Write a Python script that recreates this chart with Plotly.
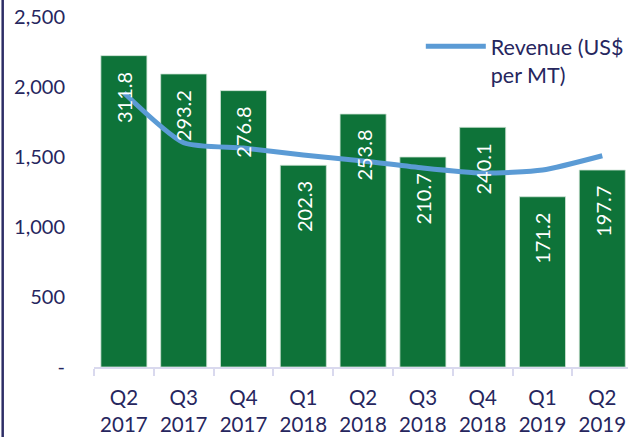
import plotly.graph_objects as go

categories = ["Q2<br>2017", "Q3<br>2017", "Q4<br>2017", "Q1<br>2018", "Q2<br>2018",
              "Q3<br>2018", "Q4<br>2018", "Q1<br>2019", "Q2<br>2019"]
volume = [2224, 2093, 1974, 1441, 1807, 1500, 1712, 1216, 1407]
bar_labels = ["311.8", "293.2", "276.8", "202.3", "253.8", "210.7", "240.1", "171.2", "197.7"]
revenue_per_mt = [1959, 1602, 1564, 1514, 1472, 1421, 1385, 1407, 1509]
ytick_vals = [0, 500, 1000, 1500, 2000, 2500]
ytick_text = ["-", "500", "1,000", "1,500", "2,000", "2,500"]

NAVY = "#26265E"
FONT = "Lato"

fig = go.Figure()
fig.add_trace(go.Bar(
    x=categories, y=volume, marker=dict(color="#0E7339", line=dict(color="#CFE3D6", width=0.8)),
    showlegend=False, hoverinfo="skip",
))
fig.add_trace(go.Scatter(
    x=categories, y=revenue_per_mt, mode="lines", name="Revenue (US$<br>per MT)",
    line=dict(color="#5B9BD5", width=5, shape="spline", smoothing=0.6),
))
for c, v, t in zip(categories, volume, bar_labels):
    fig.add_annotation(x=c, y=v, text=t, textangle=-90, showarrow=False,
                       yanchor="top", yshift=-14,
                       font=dict(family=FONT, size=20, color="white"))

fig.add_shape(type="line", xref="paper", yref="paper", x0=-0.171, x1=-0.171, y0=-0.2, y1=1.1,
              line=dict(color="#2E2E66", width=2.5))

fig.update_layout(
    width=628, height=439,
    margin=dict(l=94, r=0, t=17, b=72, autoexpand=False),
    paper_bgcolor="white", plot_bgcolor="white",
    font=dict(family=FONT, size=20, color=NAVY),
    bargap=0.23,
    legend=dict(x=0.612, y=0.975, xanchor="left", yanchor="top", bgcolor="rgba(0,0,0,0)",
                font=dict(family=FONT, size=21.5, color=NAVY), itemwidth=60, valign="top",
                tracegroupgap=0),
    xaxis=dict(range=[-0.5, 8.43], showline=True, linecolor="#D9D9EE", linewidth=1.5,
               ticks="outside", tickson="boundaries", ticklen=7, tickcolor="#D9D9EE", tickwidth=1.5,
               ticklabelstandoff=12,
               showgrid=False, automargin=False, tickfont=dict(family=FONT, size=20.5, color=NAVY)),
    yaxis=dict(range=[0, 2500], tickvals=ytick_vals, ticktext=ytick_text, showgrid=False,
               zeroline=False, showline=False, ticks="", ticklabelstandoff=28, automargin=False,
               tickfont=dict(family=FONT, size=20, color=NAVY)),
)
fig.write_html("out.html", config={"displayModeBar": False},
               post_script="document.body.style.margin='0';document.body.style.overflow='hidden';")
